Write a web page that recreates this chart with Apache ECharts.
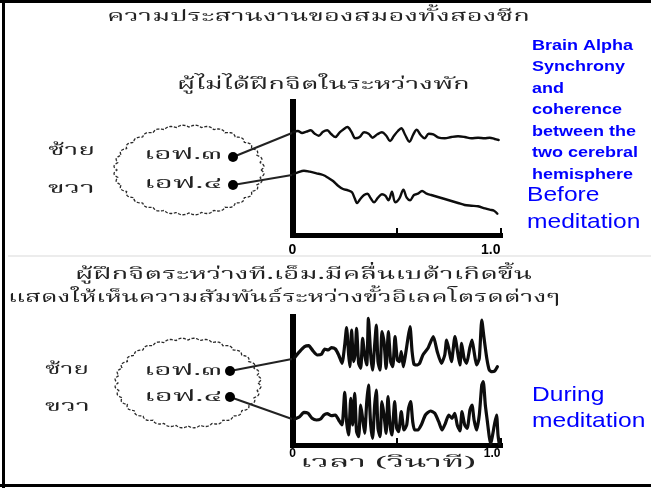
<!DOCTYPE html>
<html>
<head>
<meta charset="utf-8">
<script src="https://cdn.jsdelivr.net/npm/echarts@6/dist/echarts.min.js"></script>
<style>
  html, body { margin: 0; padding: 0; background: #ffffff; }
  #chart { width: 651px; height: 488px; }
</style>
</head>
<body>
<div id="chart"></div>
<script>
// EEG traces as [time in seconds, trace height] pairs.
// Resting, untrained subject: left frontal (F3) and right frontal (F4).
const restLeftF3 = [
  [0.002,102.7],[0.026,104],[0.046,102],[0.067,103.3],[0.087,104.7],[0.107,101.3],[0.126,99.3],
  [0.147,103.3],[0.167,104.7],[0.187,100.7],[0.206,98],[0.227,102.7],[0.243,105.3],[0.264,108],
  [0.283,103.3],[0.302,96.7],[0.323,98],[0.344,102.7],[0.366,101.3],[0.385,97.3],[0.408,100.7],
  [0.430,102.7],[0.451,99.3],[0.469,94],[0.488,99.3],[0.507,104],[0.523,106.7],[0.542,100],
  [0.562,93.3],[0.581,100.7],[0.597,105.3],[0.616,100],[0.635,96.7],[0.655,101.3],[0.677,100.7],
  [0.703,97.3],[0.732,96.7],[0.764,98],[0.796,98.7],[0.828,98],[0.860,96.7],[0.892,97.3],
  [0.924,96.7],[0.948,97.3],[0.972,96],[0.991,95]
];
const restRightF4 = [
  [0.002,60.7],[0.026,62.7],[0.055,64.3],[0.083,63.3],[0.115,61.7],[0.147,60],[0.171,57.3],
  [0.195,54],[0.219,49.3],[0.243,46],[0.267,44.7],[0.286,42.7],[0.299,36.7],[0.310,32],
  [0.326,36],[0.344,40],[0.360,41.3],[0.376,36.7],[0.392,32.7],[0.411,37.3],[0.430,40.7],
  [0.446,39.3],[0.462,34.7],[0.478,43.3],[0.494,32.7],[0.514,36.7],[0.533,45.3],[0.549,37.3],
  [0.565,34.7],[0.584,40],[0.603,41.3],[0.623,44],[0.645,41.3],[0.667,40],[0.699,38],
  [0.732,36],[0.764,34],[0.796,32],[0.828,30],[0.860,29.3],[0.892,28.7],[0.924,26.7],
  [0.948,25.3],[0.969,24.3],[0.985,21.3]
];
// Trained subject during TM: the same two electrodes.
const tmLeftF3 = [
  [0.010,87.3],[0.034,93.3],[0.058,98.3],[0.078,99.3],[0.099,94],[0.119,90],[0.139,90.7],
  [0.155,96],[0.171,95],[0.187,97.3],[0.206,96],[0.222,90],[0.238,81.7],[0.251,100],
  [0.260,117.3],[0.270,90],[0.276,78.3],[0.284,115],[0.294,83.3],[0.302,93.3],[0.308,116.7],
  [0.318,81.7],[0.328,76.7],[0.337,106.7],[0.347,90],[0.357,80],[0.365,126.7],[0.376,90],
  [0.385,75],[0.395,100],[0.403,120],[0.411,83.3],[0.421,75],[0.430,113.3],[0.440,103.3],
  [0.450,76.7],[0.461,113.3],[0.472,83.3],[0.482,78.3],[0.493,108.3],[0.504,85],[0.514,83.3],
  [0.523,93.3],[0.533,78.3],[0.543,90],[0.555,106.7],[0.565,118.3],[0.575,93.3],[0.584,80.7],
  [0.597,80],[0.611,81.7],[0.627,90],[0.651,96.7],[0.677,108.3],[0.696,93.3],[0.716,81.7],
  [0.732,90],[0.741,105],[0.751,96.7],[0.764,83.3],[0.781,108.3],[0.796,90],[0.805,80],
  [0.813,101.7],[0.825,86.7],[0.837,81.7],[0.852,96.7],[0.863,105],[0.873,93.3],[0.885,80],
  [0.898,86.7],[0.910,125],[0.921,106.7],[0.934,86.7],[0.946,75],[0.959,73.3],[0.972,74],
  [0.985,78.3]
];
const tmRightF4 = [
  [0.010,26],[0.034,28.3],[0.055,32.7],[0.075,31.7],[0.094,26.7],[0.115,25],[0.135,26],
  [0.151,30],[0.167,31.3],[0.187,29.3],[0.206,30],[0.222,25],[0.238,20],[0.251,52.7],
  [0.260,23.3],[0.270,10],[0.280,46.7],[0.289,20],[0.299,51.7],[0.308,13.3],[0.318,8.3],
  [0.328,40],[0.337,26.7],[0.347,11.7],[0.357,43.3],[0.365,60],[0.376,20],[0.385,6.7],
  [0.395,40],[0.403,55],[0.411,16.7],[0.421,8.3],[0.430,43.3],[0.440,30],[0.450,11.7],
  [0.459,48.3],[0.469,20],[0.478,10],[0.491,43.3],[0.501,16.7],[0.510,13.3],[0.523,33.3],
  [0.536,15],[0.549,20],[0.558,36.7],[0.568,43.3],[0.578,23.3],[0.587,15],[0.603,15],
  [0.619,20],[0.639,30],[0.664,34],[0.684,31.7],[0.703,23.3],[0.719,15],[0.735,21.7],
  [0.751,30],[0.767,26.7],[0.780,31.7],[0.792,20],[0.805,14],[0.815,33.3],[0.828,20],
  [0.840,16.7],[0.853,35],[0.863,40],[0.873,25],[0.885,15],[0.898,30],[0.910,60],
  [0.917,63.3],[0.927,40],[0.937,23.3],[0.946,8.3],[0.953,1],[0.962,10],[0.972,21.7],
  [0.981,30],[0.988,10],[0.994,1]
];

// Time axis: 0 to 1.0 s, ticks every half second, only the ends labelled.
const timeTicks = [0, 0.5, 1.0];
const timeTickLabels = ['0', '', '1.0'];

// Text drawn on the figure.
const titleText = 'ความประสานงานของสมองทั้งสองซีก';
const restCaption = 'ผู้ไม่ได้ฝึกจิตในระหว่างพัก';
const tmCaption = ['ผู้ฝึกจิตระหว่างที.เอ็ม.มีคลื่นเบต้าเกิดขึ้น', 'แสดงให้เห็นความสัมพันธ์ระหว่างขั้วอิเลคโตรดต่างๆ'];
const sideNames = ['ซ้าย', 'ขวา'];
const electrodeNames = ['เอฟ.๓', 'เอฟ.๔'];
const timeAxisName = 'เวลา (วินาที)';
const noteLines = ['Brain Alpha', 'Synchrony', 'and', 'coherence', 'between the', 'two cerebral', 'hemisphere'];
const stageBefore = ['Before', 'meditation'];
const stageDuring = ['During', 'meditation'];

const THAI = "'Noto Serif Thai', 'Noto Sans Thai Looped', 'Loma', 'Garuda', 'Norasi', 'Noto Sans Thai', sans-serif";
const SANS = "'Liberation Sans', Arial, Helvetica, sans-serif";
const INK = '#222222';
const BLUE = '#0000ff';

const measureCtx = document.createElement('canvas').getContext('2d');

// Text stretched horizontally so it spans [left, right], centred vertically on cy.
function fitText(text, left, right, cy, size, family, color, weight) {
  const font = (weight || 'normal') + ' ' + size + 'px ' + family;
  measureCtx.font = font;
  const w = measureCtx.measureText(text).width || 1;
  return {
    type: 'text', x: left, y: cy, scaleX: (right - left) / w, z: 20,
    style: { text: text, font: font, fill: color, align: 'left', verticalAlign: 'middle',
             textAlign: 'left', textVerticalAlign: 'middle' }
  };
}
function plainText(text, left, cy, size, family, color, weight, sx) {
  const font = (weight || 'normal') + ' ' + size + 'px ' + family;
  return {
    type: 'text', x: left, y: cy, scaleX: sx || 1, z: 20,
    style: { text: text, font: font, fill: color, align: 'left', verticalAlign: 'middle',
             textAlign: 'left', textVerticalAlign: 'middle' }
  };
}

// Scalloped head outline.
function cloud(cx, cy, rx, ry) {
  const pts = [];
  const n = 480;
  for (let i = 0; i <= n; i++) {
    const a = (i / n) * Math.PI * 2;
    const bump = 1 + 0.045 * Math.abs(Math.sin(a * 18));
    pts.push([cx + rx * bump * Math.cos(a), cy + ry * bump * Math.sin(a)]);
  }
  return {
    type: 'polyline', shape: { points: pts }, z: 5,
    style: { fill: 'none', stroke: '#2a2a2a', lineWidth: 1.3, lineDash: [3, 1.6] }
  };
}
function line(x1, y1, x2, y2, w, color) {
  return { type: 'line', z: 4, shape: { x1: x1, y1: y1, x2: x2, y2: y2 },
           style: { stroke: color || INK, lineWidth: w } };
}
function dot(cx, cy) {
  return { type: 'circle', z: 6, shape: { cx: cx, cy: cy, r: 5 }, style: { fill: '#000' } };
}

function timeAxis(gridIndex, fontSize, margin) {
  return {
    type: 'value', gridIndex: gridIndex, min: timeTicks[0], max: timeTicks[timeTicks.length - 1],
    interval: timeTicks[1] - timeTicks[0],
    axisLine: { show: true, lineStyle: { color: '#000', width: 5, cap: 'square' } },
    axisTick: { show: true, inside: true, length: 7, lineStyle: { color: '#000', width: 2 } },
    splitLine: { show: false },
    axisLabel: {
      show: true, margin: margin, color: '#000', fontSize: fontSize, fontWeight: 'bold',
      fontFamily: SANS, alignMaxLabel: 'right', alignMinLabel: 'center',
      formatter: function (v) {
        const i = timeTicks.findIndex(function (t) { return Math.abs(t - v) < 1e-9; });
        return i >= 0 ? timeTickLabels[i] : '';
      }
    }
  };
}
function traceAxis(gridIndex, maxV) {
  return {
    type: 'value', gridIndex: gridIndex, min: 0, max: maxV,
    axisLine: { show: true, lineStyle: { color: '#000', width: 6, cap: 'square' } },
    axisTick: { show: false }, axisLabel: { show: false }, splitLine: { show: false }
  };
}
function trace(name, data, axisIndex, width, smooth) {
  return {
    name: name, type: 'line', data: data, xAxisIndex: axisIndex, yAxisIndex: axisIndex,
    showSymbol: false, smooth: smooth, animation: false, z: 3,
    lineStyle: { color: '#0d0d0d', width: width, join: 'round', cap: 'round' }
  };
}

const graphics = [
  // frame and faint fold line
  line(3.5, 0, 3.5, 488, 3, '#000'),
  line(0, 1.5, 651, 1.5, 3, '#000'),
  line(0, 485.5, 651, 485.5, 3, '#000'),
  line(8, 256, 651, 256, 1.5, '#e6e6e6'),

  fitText(titleText, 107, 530, 18, 16, THAI, INK),
  fitText(restCaption, 177, 470, 86, 16, THAI, INK),
  fitText(tmCaption[0], 75, 532, 276, 16, THAI, INK),
  fitText(tmCaption[1], 8, 560, 299, 16, THAI, INK),

  // resting panel head diagram
  cloud(189, 170, 72, 43),
  fitText(sideNames[0], 48, 95, 153, 15, THAI, INK),
  fitText(sideNames[1], 48, 95, 191, 15, THAI, INK),
  fitText(electrodeNames[0], 144, 222, 157, 15, THAI, INK),
  fitText(electrodeNames[1], 144, 222, 186, 15, THAI, INK),
  line(233, 157, 292, 133, 2),
  line(233, 185, 292, 175, 2),
  dot(233, 157), dot(233, 185),

  // TM panel head diagram
  cloud(188, 383, 70, 43),
  fitText(sideNames[0], 45, 89, 372, 15, THAI, INK),
  fitText(sideNames[1], 45, 90, 409, 15, THAI, INK),
  fitText(electrodeNames[0], 144, 222, 373, 15, THAI, INK),
  fitText(electrodeNames[1], 144, 222, 399, 15, THAI, INK),
  line(230, 371, 292, 359, 2),
  line(230, 397, 292, 419, 2),
  dot(230, 371), dot(230, 397),

  fitText(timeAxisName, 300, 476, 465, 15, THAI, INK)
];

noteLines.forEach(function (t, i) {
  graphics.push(plainText(t, 532, 45.5 + i * 21.5, 15, SANS, BLUE, 'bold', 1.2));
});
stageBefore.forEach(function (t, i) {
  graphics.push(plainText(t, 527, 195 + i * 27, 21, SANS, BLUE, 'normal', 1.17));
});
stageDuring.forEach(function (t, i) {
  graphics.push(plainText(t, 532, 395 + i * 26, 21, SANS, BLUE, 'normal', 1.17));
});

const chart = echarts.init(document.getElementById('chart'), null, { renderer: 'canvas' });
chart.setOption({
  backgroundColor: '#ffffff',
  animation: false,
  grid: [
    { left: 292.5, top: 102, width: 208, height: 133 },
    { left: 292.5, top: 317, width: 208, height: 128 }
  ],
  xAxis: [timeAxis(0, 14, 8), timeAxis(1, 12, 3)],
  yAxis: [traceAxis(0, 133), traceAxis(1, 128)],
  series: [
    trace('F3 rest', restLeftF3, 0, 2.4, 0.35),
    trace('F4 rest', restRightF4, 0, 2.4, 0.35),
    trace('F3 TM', tmLeftF3, 1, 3.2, 0.2),
    trace('F4 TM', tmRightF4, 1, 3.2, 0.2)
  ],
  graphic: graphics
});
</script>
</body>
</html>
